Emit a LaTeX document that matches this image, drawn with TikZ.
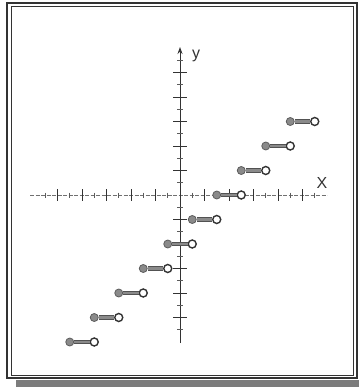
\documentclass[tikz,border=0pt]{standalone}
\usepackage{fontspec}
\setmainfont{Liberation Sans}
\usetikzlibrary{arrows.meta,calc}
\definecolor{ink}{HTML}{333333}
\definecolor{segfill}{HTML}{8A8A8A}
\definecolor{shadowgray}{HTML}{7C7C7C}
\tikzset{
  framebox/.style={draw=ink,line width=1.4pt},
  innerbox/.style={draw=ink,line width=0.9pt},
  axisy/.style={draw=ink,line width=1pt,-{Stealth[length=7pt,width=5pt]}},
  axisx/.style={draw=ink!70,line width=0.8pt,dash pattern=on 4pt off 1.5pt},
  majtick/.style={draw=ink,line width=0.8pt},
  mintick/.style={draw=ink!80,line width=0.6pt},
  seg/.style={draw=ink!85,line width=1pt,double=segfill,double distance=2.8pt},
  closeddot/.style={circle,fill=segfill,draw=ink!80,line width=0.8pt,inner sep=0pt,minimum size=8pt},
  opendot/.style={circle,fill=white,draw=ink,line width=1.4pt,inner sep=0pt,minimum size=8pt},
  axlabel/.style={font=\fontsize{16}{16}\selectfont,text=ink,inner sep=0pt}
}
\begin{document}
\begin{tikzpicture}[x=1pt,y=-1pt]
\useasboundingbox (0,0) rectangle (359,387);
% frame and shadow
\fill[shadowgray] (16,380) rectangle (359,387);
\draw[framebox] (7,3) rectangle (357,378);
\draw[innerbox] (11,6) rectangle (353,375);
% axes
\def\U{24.5}
\coordinate (O) at (180,195);
\coordinate (xl) at (30,195);
\coordinate (xr) at (327,195);
\coordinate (yb) at (180,343);
\coordinate (yt) at (180,47);
\draw[axisx] (xl) -- (xr);
\draw[axisy] (yb) -- (yt);
% x ticks
\foreach \k in {-5,...,5}{
  \ifnum\k=0\relax\else
  \draw[majtick] ($(O)+(\k*\U,-6)$) -- ($(O)+(\k*\U,6)$);
  \fi
}
\foreach \k in {-5.5,-4.5,...,5.5}{
  \draw[mintick] ($(O)+(\k*\U,-2.5)$) -- ($(O)+(\k*\U,2.5)$);
}
% y ticks
\foreach \k in {-5,...,5}{
  \ifnum\k=0\relax\else
  \draw[majtick] ($(O)+(-7,\k*\U)$) -- ($(O)+(7,\k*\U)$);
  \fi
}
\foreach \k in {-5.5,-4.5,...,5.5}{
  \draw[mintick] ($(O)+(-3,\k*\U)$) -- ($(O)+(3,\k*\U)$);
}
% labels
\node[axlabel] (ylab) at (196,56) {y};
\node[axlabel] (xlab) at (322,183) {X};
% step segments
\foreach \j [count=\n] in {-6,...,3}{
  \node[closeddot] (c\n) at ($(O)+({(\j+1.5)*\U},{-\j*\U})$) {};
  \node[opendot] (o\n) at ($(O)+({(\j+2.5)*\U},{-\j*\U})$) {};
  \draw[seg] (c\n) -- (o\n);
}
\end{tikzpicture}
\end{document}
